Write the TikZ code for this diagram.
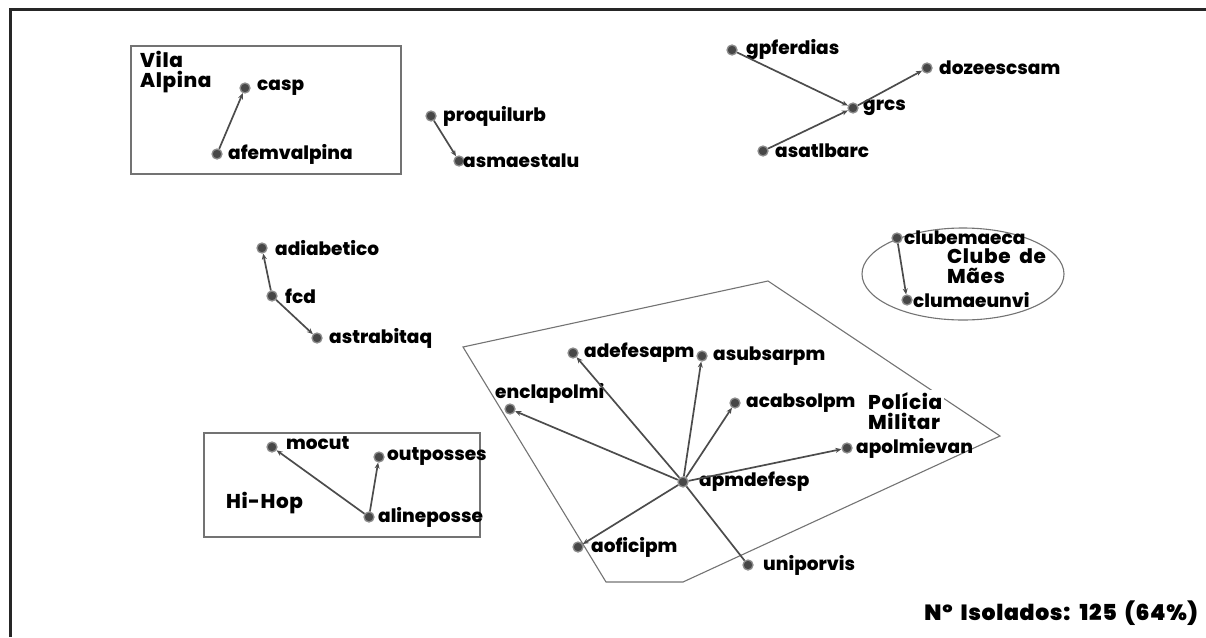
\documentclass[tikz,border=0pt]{standalone}
\usepackage{fontspec}
\setmainfont{Poppins}[BoldFont={* ExtraBold}]
\newfontfamily\heavyfont{Poppins}[UprightFont={* Black},LetterSpace=3,WordSpace=1.8]
\newfontfamily\grpfont{Poppins}[UprightFont={* ExtraBold},LetterSpace=3,WordSpace=2]
\usetikzlibrary{arrows.meta}
\begin{document}
\begin{tikzpicture}[x=1pt,y=-1pt,
  dot/.style={circle,fill=black!72,draw=black!45,line width=1.3pt,inner sep=0pt,minimum size=10pt},
  lbl/.style={anchor=west,inner sep=0pt,font=\bfseries\fontsize{18.5}{18.5}\selectfont},
  grp/.style={anchor=north west,inner sep=0pt,align=left,font=\grpfont\fontsize{20}{20}\selectfont},
  tie/.style={draw=black!70,line width=1.7pt,-{Stealth[length=6pt,width=5pt]}},
  plain/.style={draw=black!70,line width=1.7pt},
  region/.style={draw=black!55,line width=1.1pt}]
\useasboundingbox (0,0) rectangle (1206,637);
% outer frame
\coordinate (f0) at (10,637);
\coordinate (f1) at (10,9);
\coordinate (f2) at (1206,9);
\draw[line width=3pt,black!85] (f0) -- (f1) -- (f2);

% Vila Alpina
\draw[region] (131,46) rectangle (401,174);
\node[grp] (vila) at (140,51) {Vila\\Alpina};
\node[dot] (casp) at (245,88) {};
\node[lbl] (casp-l) at (257,88) {casp};
\node[dot] (afemvalpina) at (217,154) {};
\node[lbl] (afemvalpina-l) at (228,154) {afemvalpina};
\draw[tie] (afemvalpina) -- (casp);

% proquilurb / asmaestalu
\node[dot] (proquilurb) at (431,116) {};
\node[lbl] (proquilurb-l) at (443,116) {proquilurb};
\node[dot] (asmaestalu) at (459,161) {};
\node[lbl] (asmaestalu-l) at (463,161) {asmaestalu};
\draw[tie] (proquilurb) -- (asmaestalu);

% grcs cluster
\node[dot] (gpferdias) at (732,50) {};
\node[lbl] (gpferdias-l) at (746,50) {gpferdias};
\node[dot] (grcs) at (853,108) {};
\node[lbl] (grcs-l) at (863,108) {grcs};
\node[dot] (dozeescsam) at (927,68) {};
\node[lbl] (dozeescsam-l) at (939,68) {dozeescsam};
\node[dot] (asatlbarc) at (763,151) {};
\node[lbl] (asatlbarc-l) at (775,151) {asatlbarc};
\draw[tie] (gpferdias) -- (grcs);
\draw[tie] (asatlbarc) -- (grcs);
\draw[tie] (grcs) -- (dozeescsam);

% fcd cluster
\node[dot] (adiabetico) at (262,248) {};
\node[lbl] (adiabetico-l) at (275,248) {adiabetico};
\node[dot] (fcd) at (272,296) {};
\node[lbl] (fcd-l) at (285,296) {fcd};
\node[dot] (astrabitaq) at (317,338) {};
\node[lbl] (astrabitaq-l) at (329,338) {astrabitaq};
\draw[tie] (fcd) -- (adiabetico);
\draw[tie] (fcd) -- (astrabitaq);

% Clube de Maes
\draw[region] (963,274) ellipse [x radius=101,y radius=46];
\node[dot] (clubemaeca) at (897,238) {};
\node[lbl] (clubemaeca-l) at (904,238) {clubemaeca};
\node[dot] (clumaeunvi) at (907,300) {};
\node[lbl] (clumaeunvi-l) at (913,300) {clumaeunvi};
\node[grp] (clube) at (947,248) {Clube de\\Mães};
\draw[tie] (clubemaeca) -- (clumaeunvi);

% Policia Militar
\coordinate (p1) at (463,347);
\coordinate (p2) at (768,281);
\coordinate (p3) at (1000,436);
\coordinate (p4) at (683,582);
\coordinate (p5) at (606,582);
\draw[region] (p1) -- (p2) -- (p3) -- (p4) -- (p5) -- cycle;
\node[grp,fill=white,inner sep=2pt] (policia) at (866,390) {Polícia\\Militar};
\node[dot] (apmdefesp) at (683,482) {};
\node[lbl] (apmdefesp-l) at (699,482) {apmdefesp};
\node[dot] (adefesapm) at (573,353) {};
\node[lbl] (adefesapm-l) at (584,353) {adefesapm};
\node[dot] (asubsarpm) at (702,356) {};
\node[lbl] (asubsarpm-l) at (713,356) {asubsarpm};
\node[dot] (acabsolpm) at (735,403) {};
\node[lbl] (acabsolpm-l) at (746,403) {acabsolpm};
\node[dot] (apolmievan) at (847,448) {};
\node[lbl] (apolmievan-l) at (856,448) {apolmievan};
\node[dot] (enclapolmi) at (510,409) {};
\node[lbl] (enclapolmi-l) at (495,393) {enclapolmi};
\node[dot] (aoficipm) at (578,547) {};
\node[lbl] (aoficipm-l) at (591,547) {aoficipm};
\node[dot] (uniporvis) at (748,565) {};
\node[lbl] (uniporvis-l) at (763,565) {uniporvis};
\draw[tie] (apmdefesp) -- (adefesapm);
\draw[tie] (apmdefesp) -- (asubsarpm);
\draw[tie] (apmdefesp) -- (acabsolpm);
\draw[tie] (apmdefesp) -- (apolmievan);
\draw[tie] (apmdefesp) -- (enclapolmi);
\draw[tie] (apmdefesp) -- (aoficipm);
\draw[plain] (apmdefesp) -- (uniporvis);

% Hi-Hop
\draw[region] (204,433) rectangle (480,537);
\node[grp] (hihop) at (226,492) {Hi-Hop};
\node[dot] (mocut) at (272,447) {};
\node[lbl] (mocut-l) at (286,443) {mocut};
\node[dot] (outposses) at (379,457) {};
\node[lbl] (outposses-l) at (387,457) {outposses};
\node[dot] (alineposse) at (369,517) {};
\node[lbl] (alineposse-l) at (378,517) {alineposse};
\draw[tie] (alineposse) -- (mocut);
\draw[tie] (alineposse) -- (outposses);

% isolated count
\node[anchor=east,inner sep=0pt,font=\heavyfont\fontsize{22}{22}\selectfont] (isol) at (1198,613) {Nº Isolados: 125 (64\%)};
\end{tikzpicture}
\end{document}
